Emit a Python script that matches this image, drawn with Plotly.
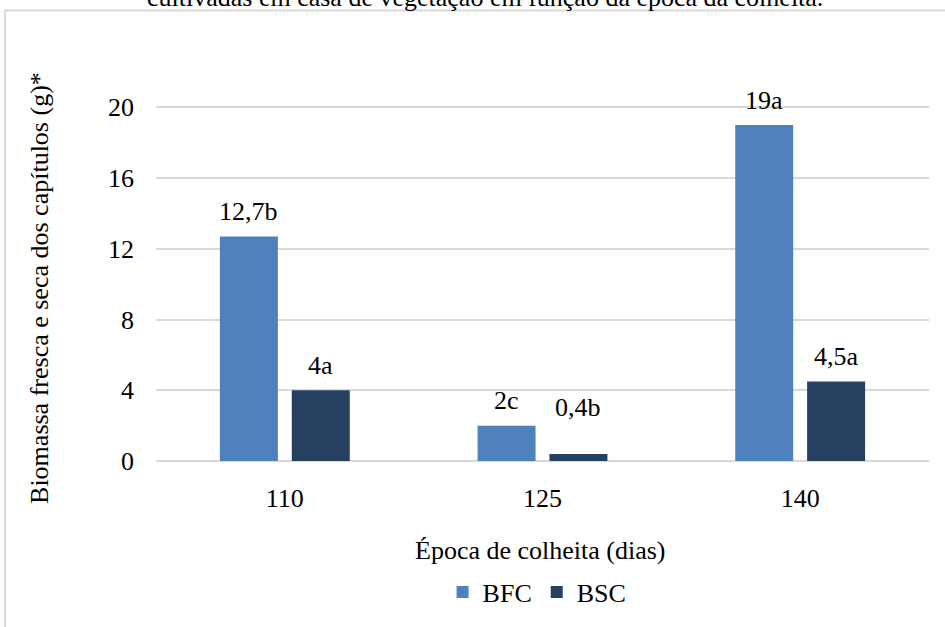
import plotly.graph_objects as go

# ---- data ----
categories = ["110", "125", "140"]
bfc_values = [12.7, 2.0, 19.0]
bsc_values = [4.0, 0.4, 4.5]
bfc_labels = ["12,7b", "2c", "19a"]
bsc_labels = ["4a", "0,4b", "4,5a"]
y_ticks = [0, 4, 8, 12, 16, 20]
series_names = ["BFC", "BSC"]

# ---- style ----
FONT = "Liberation Serif"
FS = 26
C_BFC = "#4f81bd"
C_BSC = "#264061"
BAR_W = 0.225
OFF_BFC = -0.252
OFF_BSC = 0.027
label_shift = {"0,4b": 46}


def fnt(size=FS):
    return dict(family=FONT, size=size, color="#000000")


fig = go.Figure()
fig.add_trace(go.Bar(x=categories, y=bfc_values, name=series_names[0],
                     marker=dict(color=C_BFC, line=dict(width=0)),
                     width=BAR_W, offset=OFF_BFC))
fig.add_trace(go.Bar(x=categories, y=bsc_values, name=series_names[1],
                     marker=dict(color=C_BSC, line=dict(width=0)),
                     width=BAR_W, offset=OFF_BSC))

annotations = []
for vals, labs, off in [(bfc_values, bfc_labels, OFF_BFC), (bsc_values, bsc_labels, OFF_BSC)]:
    for i, (v, t) in enumerate(zip(vals, labs)):
        annotations.append(dict(x=i + off + BAR_W / 2, y=v, xref="x", yref="y", text=t,
                                showarrow=False, yshift=label_shift.get(t, 25),
                                xanchor="center", yanchor="middle", font=fnt()))

annotations.append(dict(x=0.497, y=-0.229, xref="paper", yref="paper",
                        text="Época de colheita (dias)", showarrow=False,
                        xanchor="center", yanchor="middle", font=fnt()))
annotations.append(dict(x=-0.150, y=0.445, xref="paper", yref="paper",
                        text="Biomassa fresca e seca dos capítulos (g)*", showarrow=False,
                        textangle=-90, xanchor="center", yanchor="middle", font=fnt()))
annotations.append(dict(x=0.4256, y=1.192, xref="paper", yref="paper",
                        text="cultivadas em casa de vegetação em função da época da colheita.",
                        showarrow=False, xanchor="center", yanchor="middle", font=fnt()))

fig.update_layout(
    width=945, height=627,
    margin=dict(l=156, r=16, t=72, b=166, pad=0),
    paper_bgcolor="white", plot_bgcolor="white",
    barmode="overlay",
    font=fnt(),
    showlegend=True,
    legend=dict(orientation="h", x=0.493, xanchor="center", y=-0.337, yanchor="middle",
                font=fnt(), itemwidth=30, tracegroupgap=0),
    annotations=annotations,
    shapes=[dict(type="rect", xref="paper", yref="paper",
                 x0=-0.1953, x1=1.05, y0=-0.5, y1=1.158,
                 line=dict(color="#d9d9d9", width=2), fillcolor="rgba(0,0,0,0)", layer="below")],
)
fig.update_xaxes(type="category", range=[-0.5, 2.5], autorange=False,
                 showgrid=False, showline=False, zeroline=False,
                 ticks="", ticklabelstandoff=19, tickfont=fnt())
fig.update_yaxes(range=[0, 22], autorange=False, tickvals=y_ticks, showgrid=True,
                 gridcolor="#d9d9d9", gridwidth=1.5, zeroline=True, zerolinecolor="#d9d9d9",
                 zerolinewidth=1.5, showline=False, ticks="", ticklabelstandoff=21,
                 tickfont=fnt())

fig.write_html("out.html")
